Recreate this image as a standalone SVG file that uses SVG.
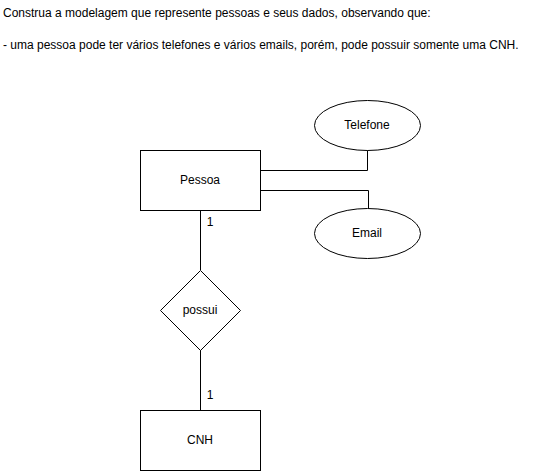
<svg xmlns="http://www.w3.org/2000/svg" width="540" height="471" viewBox="0 0 540 471">
<style>
text{font-family:"Liberation Sans",Arial,sans-serif;font-size:12px;fill:#000}
.c{text-anchor:middle;dominant-baseline:central}
.s{fill:#fff;stroke:#000;stroke-width:1}
.e{fill:none;stroke:#000;stroke-width:1}
</style>
<rect width="540" height="471" fill="#fff"/>
<text x="3" y="17">Construa a modelagem que represente pessoas e seus dados, observando que:</text>
<text x="3" y="49">- uma pessoa pode ter vários telefones e vários emails, porém, pode possuir somente uma CNH.</text>
<g id="connectors">
<path class="e" d="M260.5 170.5H367.5V150"/>
<path class="e" d="M260.5 190.5H368.5V208"/>
<path class="e" d="M200.5 210V270"/>
<path class="e" d="M200.5 350V410"/>
<text x="210" y="222" class="c">1</text>
<text x="210" y="395" class="c">1</text>
</g>
<g id="pessoa"><rect class="s" x="140.5" y="150.5" width="120" height="60"/><text x="200" y="180" class="c">Pessoa</text></g>
<g id="telefone"><ellipse class="s" cx="367.5" cy="125.5" rx="53" ry="25"/><text x="367" y="125" class="c">Telefone</text></g>
<g id="email"><ellipse class="s" cx="367.5" cy="233.5" rx="53" ry="25"/><text x="367" y="233" class="c">Email</text></g>
<g id="possui"><path class="s" d="M200.5 270.5L240.5 310.5L200.5 350.5L160.5 310.5Z"/><text x="200" y="310" class="c">possui</text></g>
<g id="cnh"><rect class="s" x="140.5" y="410.5" width="120" height="60"/><text x="200" y="440" class="c">CNH</text></g>
</svg>
